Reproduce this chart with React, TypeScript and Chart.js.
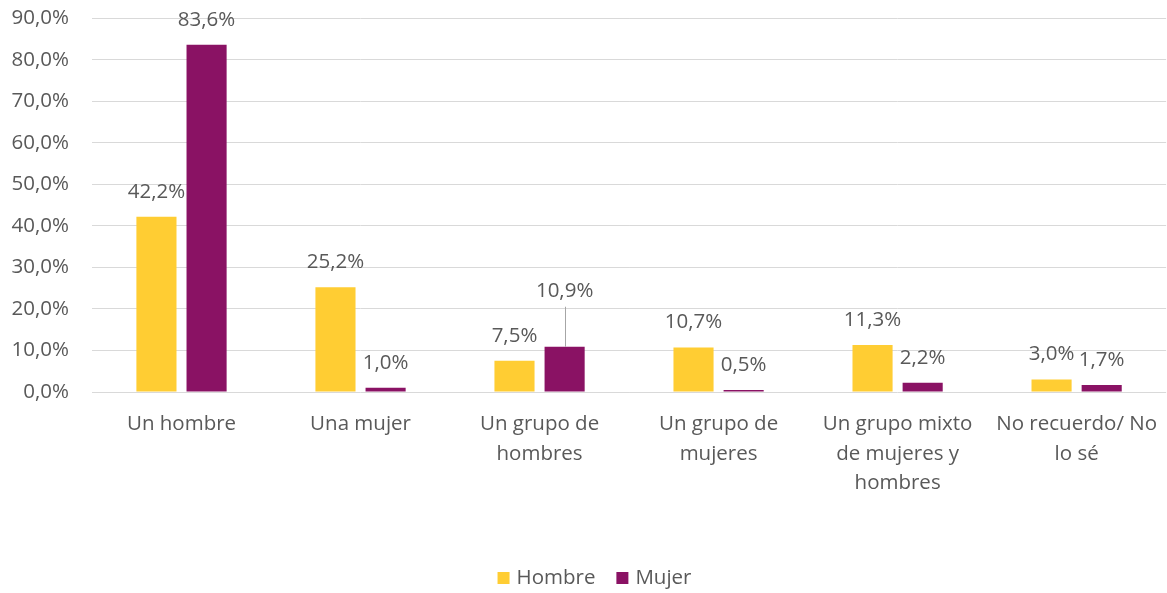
import React, { useEffect, useRef } from "react";
import { Chart, registerables } from "chart.js";

Chart.register(...registerables);

const categories: (string | string[])[] = [
  "Un hombre",
  "Una mujer",
  ["Un grupo de", "hombres"],
  ["Un grupo de", "mujeres"],
  ["Un grupo mixto", "de mujeres y", "hombres"],
  ["No recuerdo/ No", "lo sé"],
];
const seriesNames = ["Hombre", "Mujer"];
const hombre = [42.2, 25.2, 7.5, 10.7, 11.3, 3.0];
const mujer = [83.6, 1.0, 10.9, 0.5, 2.2, 1.7];
const yTicks = [0, 10, 20, 30, 40, 50, 60, 70, 80, 90];
const colors = ["#FFCD33", "#8A1264"];

const FONT = "'Open Sans', sans-serif";
const SIZE = 20.5;
const TEXT = "#595959";
const SHIFT = 17;

const fmt = (v: number) => v.toFixed(1).replace(".", ",") + "%";

const labelPlugin = {
  id: "barLabels",
  afterDatasetsDraw(chart: any) {
    const ctx = chart.ctx;
    ctx.save();
    ctx.font = `${SIZE}px ${FONT}`;
    ctx.fillStyle = TEXT;
    ctx.textAlign = "center";
    ctx.textBaseline = "middle";
    chart.data.datasets.forEach((ds: any, di: number) => {
      const meta = chart.getDatasetMeta(di);
      meta.data.forEach((bar: any, i: number) => {
        const v = ds.data[i];
        const lifted = di === 1 && i === 2;
        const lift = lifted ? 56 : 25;
        const y = bar.y - lift;
        if (lifted) {
          ctx.strokeStyle = "#a6a6a6";
          ctx.lineWidth = 1;
          ctx.beginPath();
          ctx.moveTo(Math.round(bar.x) + 0.5, y + 16);
          ctx.lineTo(Math.round(bar.x) + 0.5, bar.y);
          ctx.stroke();
        }
        ctx.fillText(fmt(v), bar.x, y);
      });
    });
    ctx.restore();
  },
};

const legendPlugin = {
  id: "customLegend",
  afterDraw(chart: any) {
    const ctx = chart.ctx;
    ctx.save();
    ctx.font = `${SIZE}px ${FONT}`;
    ctx.textBaseline = "middle";
    ctx.textAlign = "left";
    const box = 12;
    const gapBoxText = 7;
    const gapItems = 21;
    const widths = seriesNames.map((n) => ctx.measureText(n).width);
    const total =
      widths.reduce((a, w) => a + box + gapBoxText + w, 0) + gapItems * (seriesNames.length - 1);
    let x = chart.width / 2 + 11 - total / 2;
    const y = 578 + SHIFT;
    seriesNames.forEach((n, i) => {
      ctx.fillStyle = colors[i];
      ctx.fillRect(x, y - box / 2, box, box);
      x += box + gapBoxText;
      ctx.fillStyle = TEXT;
      ctx.fillText(n, x, y);
      x += widths[i] + gapItems;
    });
    ctx.restore();
  },
};

export default function App() {
  const ref = useRef<HTMLCanvasElement | null>(null);
  useEffect(() => {
    document.body.style.margin = "0";
    document.body.style.overflow = "hidden";
    const chart = new Chart(ref.current as HTMLCanvasElement, {
      type: "bar",
      data: {
        labels: categories,
        datasets: [
          { label: seriesNames[0], data: hombre, backgroundColor: colors[0] },
          { label: seriesNames[1], data: mujer, backgroundColor: colors[1] },
        ],
      },
      options: {
        animation: false,
        responsive: true,
        maintainAspectRatio: false,
        layout: { padding: 0 },
        datasets: { bar: { categoryPercentage: 0.56, barPercentage: 0.8 } },
        scales: {
          x: {
            grid: { display: false },
            border: { display: false },
            ticks: {
              color: TEXT,
              font: { family: FONT, size: SIZE, lineHeight: 1.42 },
              padding: 10,
              maxRotation: 0,
              autoSkip: false,
            },
            afterFit(scale: any) {
              scale.height = 201;
            },
          },
          y: {
            min: 0,
            max: 90,
            afterBuildTicks(scale: any) {
              scale.ticks = yTicks.map((v) => ({ value: v }));
            },
            afterFit(scale: any) {
              scale.width = 92;
            },
            grid: { color: "#d9d9d9", lineWidth: 1, drawTicks: false },
            border: { display: false },
            ticks: {
              color: TEXT,
              font: { family: FONT, size: SIZE },
              padding: 23,
              callback: (v: any) => fmt(Number(v)),
            },
          },
        },
        plugins: {
          tooltip: { enabled: false },
          legend: { display: false },
        },
      },
      plugins: [labelPlugin, legendPlugin],
    });
    return () => chart.destroy();
  }, []);
  return (
    <div style={{ width: 1167, height: 593, overflow: "hidden", position: "relative" }}>
      <div style={{ width: 1167, height: 593 + SHIFT, marginTop: -SHIFT, position: "relative" }}>
        <canvas ref={ref} />
      </div>
    </div>
  );
}
